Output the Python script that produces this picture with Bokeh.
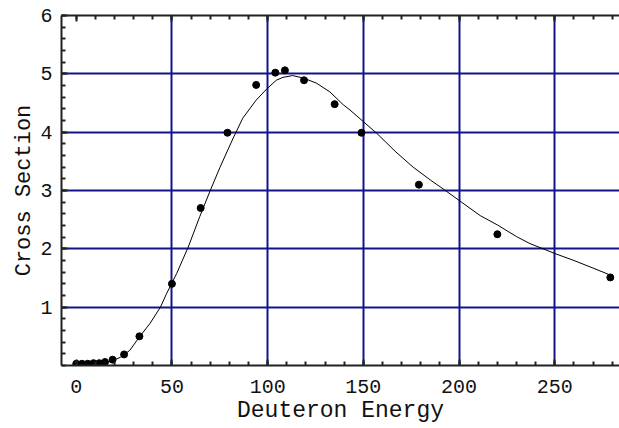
from bokeh.plotting import figure
from bokeh.models import LinearAxis, FixedTicker, Range1d
from bokeh.embed import file_html
from bokeh.resources import INLINE

# measured data points (Deuteron energy, cross section)
energy = [0, 3, 6, 9, 12, 15, 19, 25, 33, 50, 65, 79, 94, 104, 109, 119, 135, 149, 179, 220, 279]
xsec = [0.03, 0.03, 0.03, 0.04, 0.04, 0.06, 0.10, 0.19, 0.50, 1.40, 2.70, 3.99, 4.81, 5.02, 5.06, 4.89, 4.48, 3.99, 3.10, 2.25, 1.51]

# fitted smooth curve
fit_x = [0, 8, 14, 18, 23, 28, 33, 38.5, 44, 47, 52.5, 58.5, 64.5, 70, 75, 82, 87, 94,
         99.5, 104.5, 108, 113, 118.5, 125.5, 132.5, 139.5, 143, 150, 157, 167, 176, 185,
         192, 200, 211, 220, 230, 237, 250, 260, 270, 279]
fit_y = [0.02, 0.03, 0.05, 0.07, 0.14, 0.26, 0.49, 0.72, 1.00, 1.22, 1.58, 2.03, 2.55,
         3.00, 3.39, 3.90, 4.24, 4.55, 4.74, 4.89, 4.94, 4.97, 4.93, 4.84, 4.69, 4.47,
         4.38, 4.18, 3.98, 3.66, 3.40, 3.18, 3.02, 2.83, 2.57, 2.41, 2.21, 2.09, 1.92,
         1.80, 1.67, 1.55]

x_major = [0, 50, 100, 150, 200, 250]
x_minor = list(range(0, 290, 10))
y_major = [1, 2, 3, 4, 5, 6]
y_minor = [round(0.2 * i, 1) for i in range(0, 31)]
x_grid = [50, 100, 150, 200, 250]
y_grid = [1, 2, 3, 4, 5]

FONT = "Liberation Mono"
FS = "20px"
AFS = "23px"
GRID = "#14148a"
AX = "#222222"

p = figure(width=619, height=428, output_backend="svg", toolbar_location=None,
           x_range=Range1d(-7.7, 283.8), y_range=Range1d(0, 6),
           min_border_left=61, min_border_right=0, min_border_top=15, min_border_bottom=63,
           x_axis_location="below")
p.outline_line_color = None
p.background_fill_color = "white"
p.border_fill_color = "white"

p.xgrid.ticker = FixedTicker(ticks=x_grid)
p.ygrid.ticker = FixedTicker(ticks=y_grid)
for g in (p.xgrid, p.ygrid):
    g.grid_line_color = GRID
    g.grid_line_width = 2

def style(ax):
    ax.axis_line_color = AX
    ax.axis_line_width = 2
    ax.major_tick_line_color = AX
    ax.minor_tick_line_color = AX
    ax.major_tick_line_width = 2
    ax.minor_tick_line_width = 2
    ax.major_tick_in = 6
    ax.major_tick_out = 0
    ax.minor_tick_in = 4
    ax.minor_tick_out = 0
    ax.major_label_text_font = FONT
    ax.major_label_text_font_size = FS
    ax.major_label_text_color = "#111111"
    ax.axis_label_text_font = FONT
    ax.axis_label_text_font_size = AFS
    ax.axis_label_text_font_style = "normal"
    ax.axis_label_text_color = "#111111"

xa = p.xaxis[0]
xa.ticker = FixedTicker(ticks=x_major, minor_ticks=x_minor)
style(xa)
xa.major_label_standoff = 14
xa.axis_label = "Deuteron Energy"
xa.axis_label_standoff = 2

ya = p.yaxis[0]
ya.ticker = FixedTicker(ticks=y_major, minor_ticks=y_minor)
style(ya)
ya.major_label_standoff = 9
ya.axis_label = "Cross Section"
ya.axis_label_text_font_size = "22px"
ya.axis_label_standoff = 0

top = LinearAxis(ticker=FixedTicker(ticks=x_major, minor_ticks=x_minor))
style(top)
top.major_label_overrides = {t: "" for t in x_major}
top.major_label_standoff = 0
p.add_layout(top, "above")

p.line(fit_x, fit_y, line_color="black", line_width=1)
p.scatter(energy, xsec, size=7, fill_color="black", line_color="black")

open("out.html", "w").write(file_html(p, INLINE))
